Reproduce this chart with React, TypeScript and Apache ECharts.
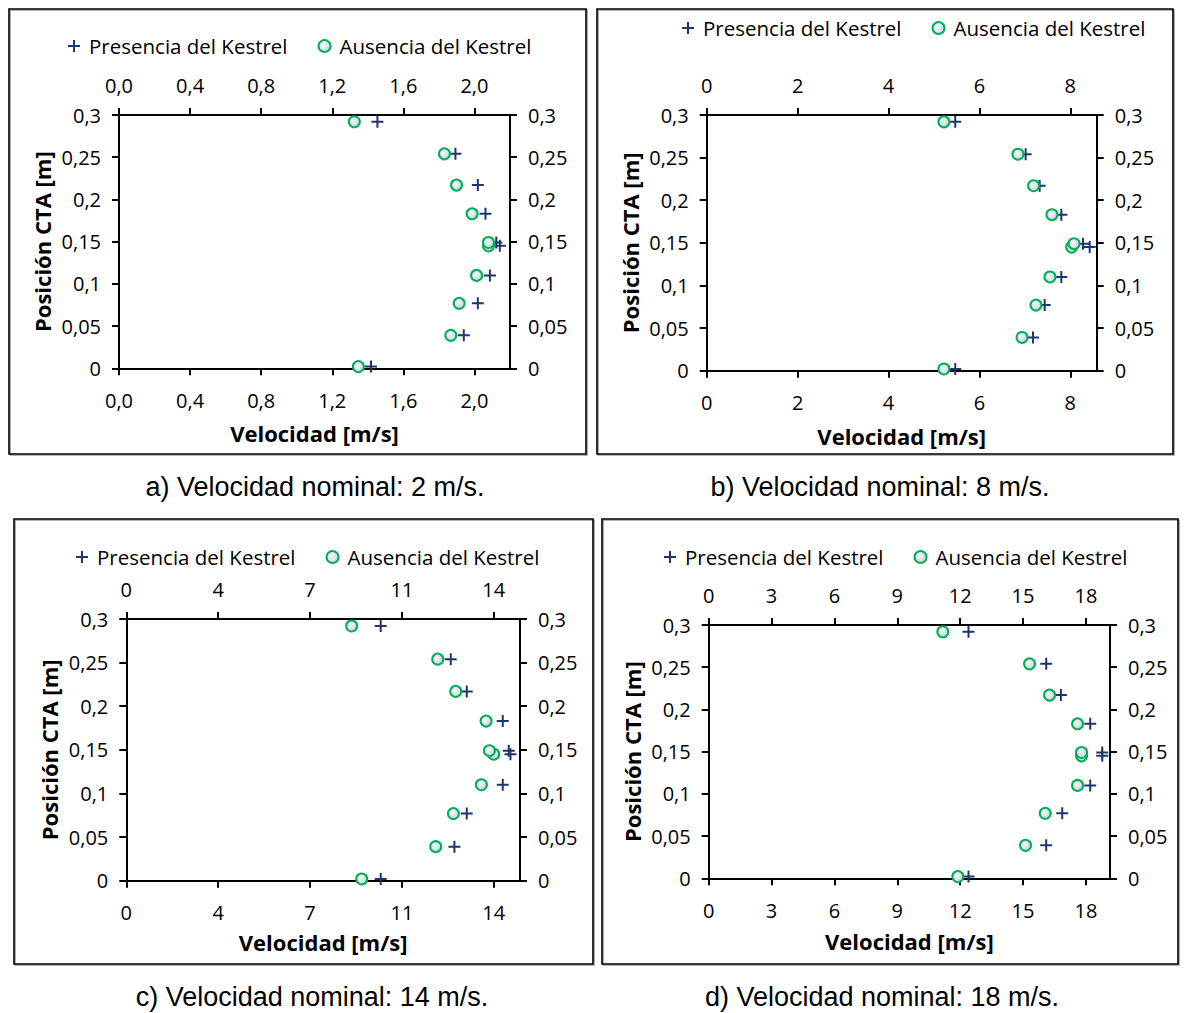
import React, { useEffect, useRef } from "react";
import * as echarts from "echarts";

// Vertical positions (m) shared by all panels
const positions = [0.002, 0.039, 0.077, 0.110, 0.145, 0.149, 0.183, 0.217, 0.254, 0.292];

// a) 2 m/s
const presA = [1.418, 1.940, 2.019, 2.087, 2.143, 2.123, 2.062, 2.019, 1.893, 1.454];
const ausA = [1.347, 1.867, 1.914, 2.012, 2.079, 2.079, 1.987, 1.899, 1.831, 1.324];
// b) 8 m/s
const presB = [5.468, 7.178, 7.435, 7.802, 8.426, 8.279, 7.802, 7.325, 7.017, 5.468];
const ausB = [5.218, 6.936, 7.244, 7.552, 8.029, 8.081, 7.596, 7.193, 6.848, 5.218];
// c) 14 m/s
const presC = [9.693, 12.501, 12.971, 14.343, 14.636, 14.572, 14.343, 12.971, 12.361, 9.693];
const ausC = [8.969, 11.789, 12.463, 13.530, 14.0, 13.835, 13.708, 12.552, 11.866, 8.588];
// d) 18 m/s
const presD = [12.398, 16.106, 16.870, 18.207, 18.780, 18.780, 18.207, 16.807, 16.106, 12.398];
const ausD = [11.889, 15.119, 16.059, 17.602, 17.793, 17.793, 17.602, 16.265, 15.311, 11.172];

// Tick values and labels
const xTicksA = [0, 0.4, 0.8, 1.2, 1.6, 2.0];
const xLabelsA = ["0,0", "0,4", "0,8", "1,2", "1,6", "2,0"];
const xTicksB = [0, 2, 4, 6, 8];
const xLabelsB = ["0", "2", "4", "6", "8"];
const xTicksC = [0, 3.5, 7, 10.5, 14];
const xLabelsC = ["0", "4", "7", "11", "14"];
const xTicksD = [0, 3, 6, 9, 12, 15, 18];
const xLabelsD = ["0", "3", "6", "9", "12", "15", "18"];
const yTicks = [0, 0.05, 0.1, 0.15, 0.2, 0.25, 0.3];
const yLabels = ["0", "0,05", "0,1", "0,15", "0,2", "0,25", "0,3"];

const xMaxes = [2.2, 8.58, 15.0, 19.15];
const captions = [
  "a) Velocidad nominal: 2 m/s.",
  "b) Velocidad nominal: 8 m/s.",
  "c) Velocidad nominal: 14 m/s.",
  "d) Velocidad nominal: 18 m/s.",
];
const seriesNames = ["Presencia del Kestrel", "Ausencia del Kestrel"];
const xTitle = "Velocidad [m/s]";
const yTitle = "Posición CTA [m]";

const FONT = "'Open Sans', sans-serif";
const PLUS = "path://M5,0H7V5H12V7H7V12H5V7H0V5H5Z";
const NAVY = "#1F3570";
const GREEN = "#00B050";

const panels = [
  { grid: { left: 119, top: 115, width: 391, height: 253.3 }, legend: { left: 68, top: 34 }, nameGapX: 54, border: [9, 9, 577, 445], cap: [315, 487] },
  { grid: { left: 706.7, top: 115, width: 390, height: 255.7 }, legend: { left: 682, top: 16 }, nameGapX: 54, border: [597, 9, 576, 445], cap: [880, 487] },
  { grid: { left: 126.3, top: 619, width: 393.7, height: 261.7 }, legend: { left: 76, top: 545 }, nameGapX: 50, border: [14, 519, 579, 445], cap: [312, 997] },
  { grid: { left: 708.7, top: 625, width: 401.3, height: 253.3 }, legend: { left: 664, top: 545 }, nameGapX: 52, border: [602, 519, 576, 445], cap: [882, 997] },
];

const lookup = (ticks: number[], labels: string[]) => (v: number) => {
  const i = ticks.findIndex((t) => Math.abs(t - v) < 1e-9);
  return i >= 0 ? labels[i] : "";
};

const axisLine = { show: true, onZero: false, lineStyle: { color: "#000", width: 2 } };
const tickStyle = { color: "#000", width: 2 };
const labelStyle = { color: "#000", fontFamily: FONT, fontSize: 20 };

function buildOption() {
  const xs = [
    [xTicksA, xLabelsA],
    [xTicksB, xLabelsB],
    [xTicksC, xLabelsC],
    [xTicksD, xLabelsD],
  ] as [number[], string[]][];
  const pres = [presA, presB, presC, presD];
  const aus = [ausA, ausB, ausC, ausD];

  const grid: any[] = [];
  const xAxis: any[] = [];
  const yAxis: any[] = [];
  const series: any[] = [];
  const legend: any[] = [];
  const graphic: any[] = [];

  panels.forEach((p, gi) => {
    grid.push({ ...p.grid, containLabel: false, outerBoundsMode: "none" });
    const [ticks, labels] = xs[gi];
    const fmtX = lookup(ticks, labels);
    const fmtY = lookup(yTicks, yLabels);
    const xCommon = {
      type: "value",
      gridIndex: gi,
      min: 0,
      max: xMaxes[gi],
      axisLine,
      splitLine: { show: false },
      axisTick: { show: true, inside: false, length: 7, lineStyle: tickStyle, customValues: ticks },
    };
    xAxis.push({
      ...xCommon,
      position: "bottom",
      axisLabel: { ...labelStyle, margin: 22, customValues: ticks, formatter: fmtX },
      name: xTitle,
      nameLocation: "middle",
      nameGap: p.nameGapX,
      nameMoveOverlap: false,
      nameTextStyle: { color: "#000", fontFamily: FONT, fontWeight: "bold", fontSize: 22 },
    });
    xAxis.push({
      ...xCommon,
      position: "top",
      axisLabel: { ...labelStyle, margin: 20, customValues: ticks, formatter: fmtX },
    });
    const yCommon = {
      type: "value",
      gridIndex: gi,
      min: 0,
      max: 0.3,
      axisLine,
      splitLine: { show: false },
      axisTick: { show: true, inside: false, length: 7, lineStyle: tickStyle, customValues: yTicks },
    };
    yAxis.push({
      ...yCommon,
      position: "left",
      axisLabel: { ...labelStyle, margin: 18, customValues: yTicks, formatter: fmtY },
      name: yTitle,
      nameLocation: "middle",
      nameGap: 66,
      nameMoveOverlap: false,
      nameTextStyle: { color: "#000", fontFamily: FONT, fontWeight: "bold", fontSize: 22 },
    });
    yAxis.push({
      ...yCommon,
      position: "right",
      axisLabel: { ...labelStyle, margin: 18, customValues: yTicks, formatter: fmtY },
    });

    const xi = gi * 2;
    const yi = gi * 2;
    series.push({
      type: "scatter",
      name: seriesNames[0],
      xAxisIndex: xi,
      yAxisIndex: yi,
      symbol: PLUS,
      symbolSize: 12,
      itemStyle: { color: NAVY, opacity: 1 },
      data: positions.map((y, i) => [pres[gi][i], y]),
      z: 2,
    });
    series.push({
      type: "scatter",
      name: seriesNames[1],
      xAxisIndex: xi,
      yAxisIndex: yi,
      symbol: "circle",
      symbolSize: 11,
      itemStyle: {
        color: {
          type: "radial",
          x: 0.4,
          y: 0.4,
          r: 0.7,
          colorStops: [
            { offset: 0, color: "#F7F9FC" },
            { offset: 1, color: "#BCCDE4" },
          ],
        },
        borderColor: GREEN,
        borderWidth: 2,
        opacity: 1,
      },
      data: positions.map((y, i) => [aus[gi][i], y]),
      z: 3,
    });

    legend.push({
      show: true,
      left: p.legend.left,
      top: p.legend.top,
      orient: "horizontal",
      itemWidth: 12,
      itemHeight: 12,
      itemGap: 30,
      padding: 0,
      selectedMode: false,
      textStyle: { color: "#000", fontFamily: FONT, fontSize: 20.5, lineHeight: 24, padding: [0, 0, 0, 4] },
      data: [
        { name: seriesNames[0], icon: PLUS, itemStyle: { color: NAVY } },
        { name: seriesNames[1], icon: "circle" },
      ],
    });

    const [bx, by, bw, bh] = p.border;
    graphic.push({
      type: "rect",
      shape: { x: bx + 1.2, y: by + 1.2, width: bw, height: bh },
      style: { fill: "none", stroke: "#9A9A9A", lineWidth: 1.2 },
      z: 0,
      silent: true,
    });
    graphic.push({
      type: "rect",
      shape: { x: bx, y: by, width: bw, height: bh },
      style: { fill: "none", stroke: "#000", lineWidth: 1.6 },
      z: 1,
      silent: true,
    });
    graphic.push({
      type: "text",
      x: p.cap[0],
      y: p.cap[1],
      style: {
        text: captions[gi],
        fill: "#000",
        fontFamily: "'Liberation Sans', Arial, sans-serif",
        fontSize: 27,
        align: "center",
        verticalAlign: "middle",
      },
      silent: true,
    });
  });

  return {
    animation: false,
    backgroundColor: "#fff",
    textStyle: { fontFamily: FONT },
    grid,
    xAxis,
    yAxis,
    series,
    legend,
    graphic,
    tooltip: { show: false },
  };
}

export default function App() {
  const ref = useRef<HTMLDivElement>(null);
  useEffect(() => {
    if (!ref.current) return;
    const chart = echarts.init(ref.current, null, { renderer: "svg" });
    chart.setOption(buildOption() as any);
    return () => chart.dispose();
  }, []);
  return (
    <div
      ref={ref}
      style={{ position: "absolute", left: 0, top: 0, width: 1184, height: 1013, background: "#fff" }}
    />
  );
}
